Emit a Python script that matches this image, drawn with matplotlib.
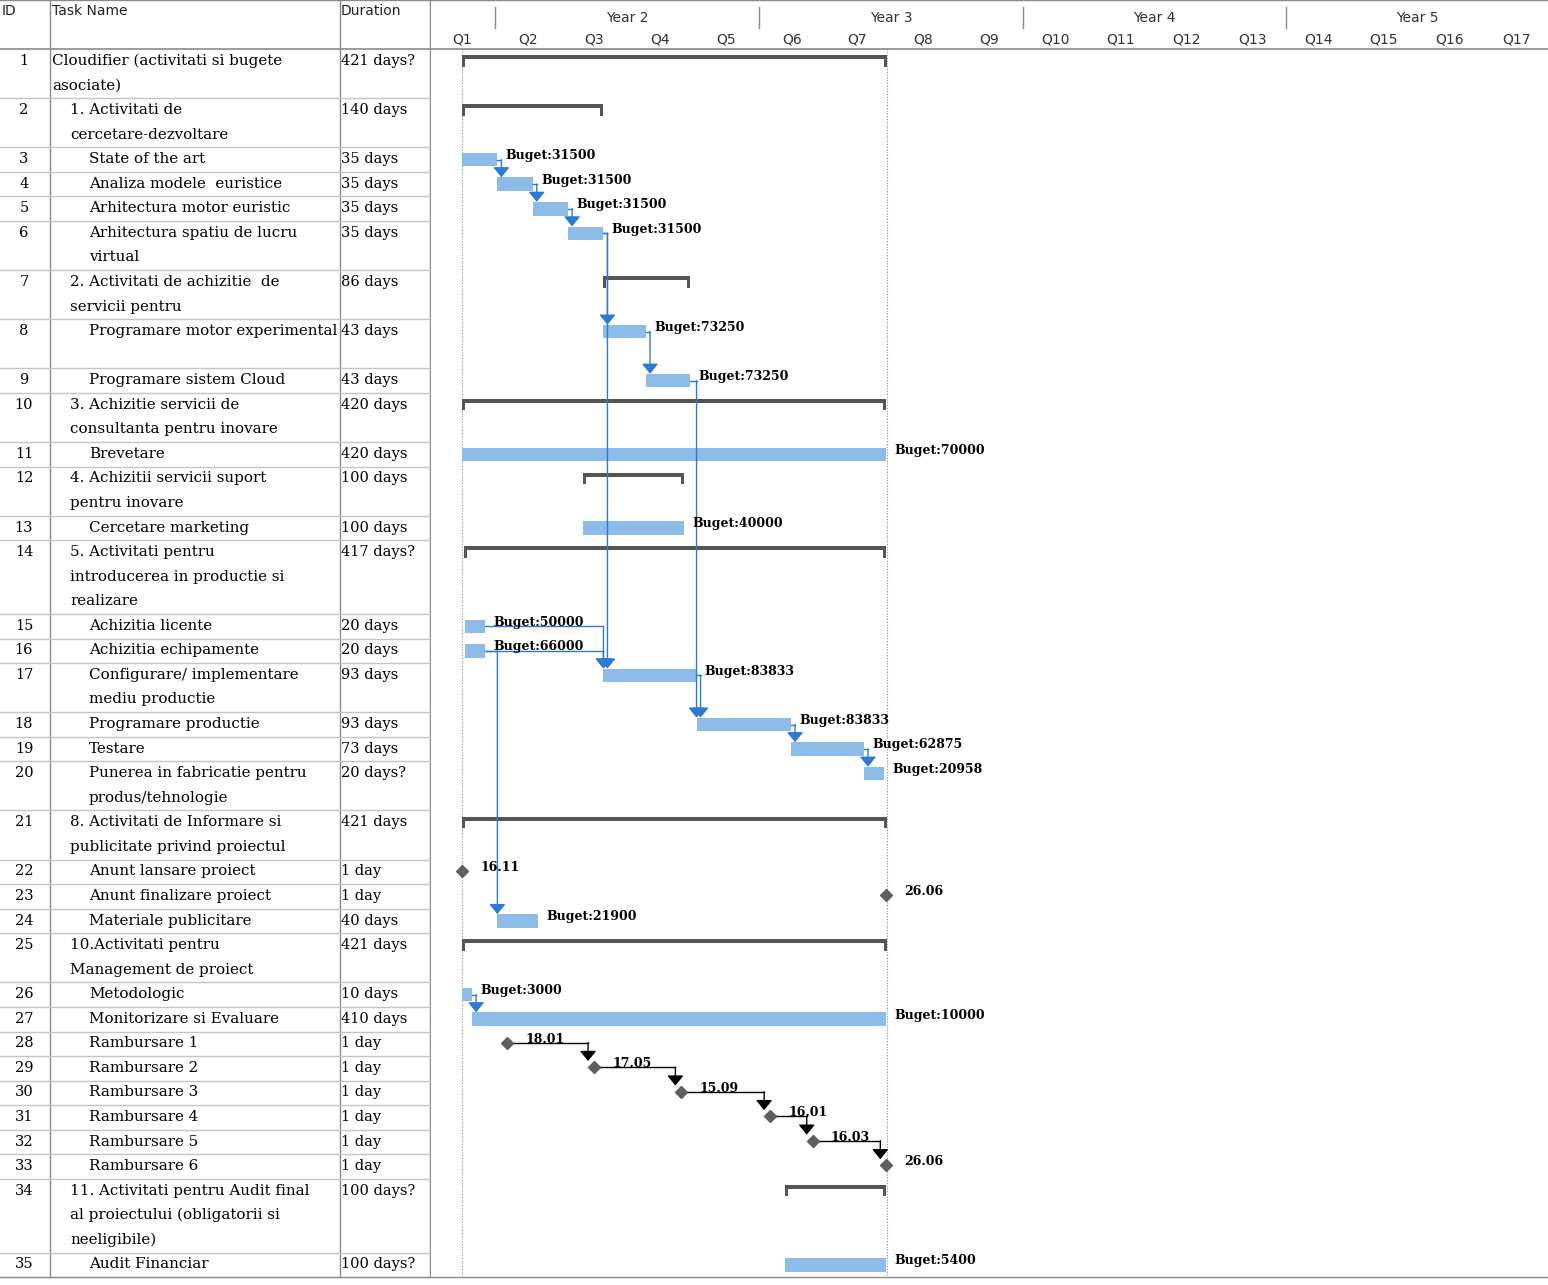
import numpy as np
import matplotlib.pyplot as plt
import matplotlib.dates as mdates

# ---- task table ----
names = [
    "Cloudifier (activitati si bugete\nasociate)",
    "1. Activitati de\ncercetare-dezvoltare",
    "State of the art",
    "Analiza modele  euristice",
    "Arhitectura motor euristic",
    "Arhitectura spatiu de lucru\nvirtual",
    "2. Activitati de achizitie  de\nservicii pentru",
    "Programare motor experimental",
    "Programare sistem Cloud",
    "3. Achizitie servicii de\nconsultanta pentru inovare",
    "Brevetare",
    "4. Achizitii servicii suport\npentru inovare",
    "Cercetare marketing",
    "5. Activitati pentru\nintroducerea in productie si\nrealizare",
    "Achizitia licente",
    "Achizitia echipamente",
    "Configurare/ implementare\nmediu productie",
    "Programare productie",
    "Testare",
    "Punerea in fabricatie pentru\nprodus/tehnologie",
    "8. Activitati de Informare si\npublicitate privind proiectul",
    "Anunt lansare proiect",
    "Anunt finalizare proiect",
    "Materiale publicitare",
    "10.Activitati pentru\nManagement de proiect",
    "Metodologic",
    "Monitorizare si Evaluare",
    "Rambursare 1",
    "Rambursare 2",
    "Rambursare 3",
    "Rambursare 4",
    "Rambursare 5",
    "Rambursare 6",
    "11. Activitati pentru Audit final\nal proiectului (obligatorii si\nneeligibile)",
    "Audit Financiar",
]
levels = [0, 1, 2, 2, 2, 2, 1, 2, 2, 1, 2, 1, 2, 1, 2, 2, 2, 2, 2, 2,
          1, 2, 2, 2, 1, 2, 2, 2, 2, 2, 2, 2, 2, 1, 2]
durations = ["421 days?", "140 days", "35 days", "35 days", "35 days", "35 days",
             "86 days", "43 days", "43 days", "420 days", "420 days", "100 days",
             "100 days", "417 days?", "20 days", "20 days", "93 days", "93 days",
             "73 days", "20 days?", "421 days", "1 day", "1 day", "40 days",
             "421 days", "10 days", "410 days", "1 day", "1 day", "1 day", "1 day",
             "1 day", "1 day", "100 days?", "100 days?"]
# s = summary, t = task, m = milestone
kinds = ["s", "s", "t", "t", "t", "t", "s", "t", "t", "s", "t", "s", "t", "s",
         "t", "t", "t", "t", "t", "t", "s", "m", "m", "t", "s", "t", "t",
         "m", "m", "m", "m", "m", "m", "s", "t"]
starts = ["2015-11-16", "2015-11-16", "2015-11-16", "2016-01-04", "2016-02-22",
          "2016-04-11", "2016-05-30", "2016-05-30", "2016-07-28", "2015-11-16",
          "2015-11-16", "2016-05-02", "2016-05-02", "2015-11-19", "2015-11-20",
          "2015-11-20", "2016-05-30", "2016-10-06", "2017-02-14", "2017-05-26",
          "2015-11-16", "2015-11-16", "2017-06-26", "2016-01-04", "2015-11-16",
          "2015-11-16", "2015-11-30", "2016-01-18", "2016-05-17", "2016-09-15",
          "2017-01-16", "2017-03-16", "2017-06-26", "2017-02-06", "2017-02-06"]
budgets = [None, None, "Buget:31500", "Buget:31500", "Buget:31500", "Buget:31500",
           None, "Buget:73250", "Buget:73250", None, "Buget:70000", None,
           "Buget:40000", None, "Buget:50000", "Buget:66000", "Buget:83833",
           "Buget:83833", "Buget:62875", "Buget:20958", None, None, None,
           "Buget:21900", None, "Buget:3000", "Buget:10000", None, None, None,
           None, None, None, None, "Buget:5400"]
links = [(3, 4), (4, 5), (5, 6), (6, 8), (6, 17), (8, 9), (9, 18), (15, 17),
         (16, 17), (16, 24), (17, 18), (18, 19), (19, 20), (26, 27),
         (28, 29), (29, 30), (30, 31), (31, 32), (32, 33)]

year_labels = ["Year 2", "Year 3", "Year 4", "Year 5"]
year_starts = ["2016-01-01", "2017-01-01", "2018-01-01", "2019-01-01"]
quarter_labels = ["Q%d" % i for i in range(1, 18)]

# layout: text lines per row
row_lines = [2, 2, 1, 1, 1, 2, 2, 2, 1, 2, 1, 2, 1, 3, 1, 1, 2, 1, 1, 2, 2,
             1, 1, 1, 2, 1, 1, 1, 1, 1, 1, 1, 1, 3, 1]

BAR = "#8dbbea"
LINK = "#2b7bd4"
SUMM = "#555555"
GRID = "#c4c4c4"
DARK = "#8a8a8a"

n = len(names)
dur_days = [int(d.split()[0]) for d in durations]
start_d = np.array(starts, dtype="datetime64[D]")
end_d = np.busday_offset(start_d, dur_days, roll="forward")
x0 = mdates.date2num(start_d)
x1 = mdates.date2num(end_d)
for i in range(n):
    if kinds[i] == "m":
        x1[i] = x0[i]

tops = 2 + np.concatenate([[0], np.cumsum(row_lines)[:-1]])
bottom = 2 + sum(row_lines)
total_h = 1285 / (1228 / 50)

fig = plt.figure(figsize=(15.48, 12.85), dpi=100)
tab = fig.add_axes([0, 0, 431 / 1548, 1])
gan = fig.add_axes([431 / 1548, 0, 1117 / 1548, 1])
for a in (tab, gan):
    a.set_ylim(total_h, 0)
    a.set_axis_off()
tab.set_xlim(0, 431)
xl = mdates.date2num(np.array(["2015-10-04", "2019-12-30"], dtype="datetime64[D]"))
gan.set_xlim(xl[0], xl[1])
day_px = 1117 / (xl[1] - xl[0])

# ---- table ----
serif = "DejaVu Serif"
tab.plot([0, 431], [0.02, 0.02], color=DARK, lw=1)
for xc in [50, 340, 430.5]:
    tab.plot([xc, xc], [0, bottom], color=DARK, lw=1)
tab.plot([0, 431], [2, 2], color=DARK, lw=1.2)
for i in range(n):
    tab.plot([0, 431], [tops[i] + row_lines[i]] * 2, color=GRID, lw=1)
tab.plot([0, 431], [bottom, bottom], color=DARK, lw=1)
tab.text(2, 0.45, "ID", fontsize=10, va="center", color="#222222")
tab.text(52, 0.45, "Task Name", fontsize=10, va="center", color="#222222")
tab.text(341, 0.45, "Duration", fontsize=10, va="center", color="#222222")
for i in range(n):
    tab.text(24, tops[i] + 0.48, str(i + 1), family=serif, fontsize=10.5,
             ha="center", va="center")
    for k, line in enumerate(names[i].split("\n")):
        tab.text(52 + 18.5 * levels[i], tops[i] + 0.48 + k, line, family=serif,
                 fontsize=10.9, va="center")
    tab.text(341, tops[i] + 0.48, durations[i], family=serif, fontsize=10.5,
             va="center")

# ---- timeline header ----
gan.plot(xl, [0.02, 0.02], color=DARK, lw=1)
gan.plot(xl, [2, 2], color=DARK, lw=1.2)
gan.plot(xl, [bottom, bottom], color=DARK, lw=1)
ys = mdates.date2num(np.array(year_starts, dtype="datetime64[D]"))
ye = mdates.date2num(np.array(year_starts, dtype="datetime64[D]") + np.timedelta64(365, "D"))
for i, lab in enumerate(year_labels):
    gan.plot([ys[i], ys[i]], [0.28, 1.14], color=DARK, lw=1)
    gan.text((ys[i] + ye[i]) / 2, 0.74, lab, fontsize=10, ha="center",
             va="center", color="#333333")
qs = np.arange(np.datetime64("2015-10"), np.datetime64("2020-01"), 3)
qc = (mdates.date2num(qs.astype("datetime64[D]")) +
      mdates.date2num((qs + 3).astype("datetime64[D]"))) / 2
for i, lab in enumerate(quarter_labels):
    gan.text(qc[i], 1.6, lab, fontsize=10, ha="center", va="center",
             color="#333333")

# project start / finish markers
for xv in (x0[0], x1[0]):
    gan.plot([xv, xv], [2, bottom], color="#8c8c8c", lw=0.8, ls=(0, (1, 1.5)))

# ---- bars ----
px = 1 / day_px
for i in range(n):
    t = tops[i]
    if kinds[i] == "t":
        gan.barh(t + 0.5, x1[i] - x0[i], left=x0[i], height=0.55, color=BAR,
                 zorder=2)
    elif kinds[i] == "s":
        gan.barh(t + 0.33, x1[i] - x0[i], left=x0[i], height=0.16, color=SUMM,
                 zorder=2)
        gan.barh(t + 0.48, 3 * px, left=x0[i], height=0.46, color=SUMM, zorder=2)
        gan.barh(t + 0.48, 3 * px, left=x1[i] - 3 * px, height=0.46, color=SUMM,
                 zorder=2)
    else:
        gan.plot(x0[i], t + 0.45, marker="D", ms=6.5, color="#5f5f5f", zorder=4)
        gan.annotate(str(start_d[i].item().strftime("%d.%m")), (x0[i], t + 0.45),
                     xytext=(13, 2.5), textcoords="offset points", va="center",
                     family=serif, fontsize=9, fontweight="bold", zorder=5)
    if budgets[i]:
        gan.annotate(budgets[i], (x1[i], t + 0.5), xytext=(6, 3),
                     textcoords="offset points", va="center", family=serif,
                     fontsize=9, fontweight="bold", zorder=5)

# ---- links ----
for p, s in links:
    p -= 1
    s -= 1
    if kinds[p] == "m":
        col = "black"
        ya = tops[p] + 0.45
        xa = x0[p]
        xv = x0[s] - 6 * px
        yb = tops[s] + 0.2
    else:
        col = LINK
        ya = tops[p] + 0.5
        xa = x1[p]
        xv = max(x1[p] + 4 * px, x0[s])
        yb = tops[s] + 0.22
    gan.plot([xa, xv], [ya, ya], color=col, lw=1, zorder=3)
    gan.annotate("", xy=(xv, yb), xytext=(xv, ya),
                 arrowprops=dict(arrowstyle="-|>,head_length=0.55,head_width=0.45",
                                 color=col, lw=1, shrinkA=0, shrinkB=0,
                                 mutation_scale=11), zorder=3)

fig.savefig("out.png", dpi=100)
